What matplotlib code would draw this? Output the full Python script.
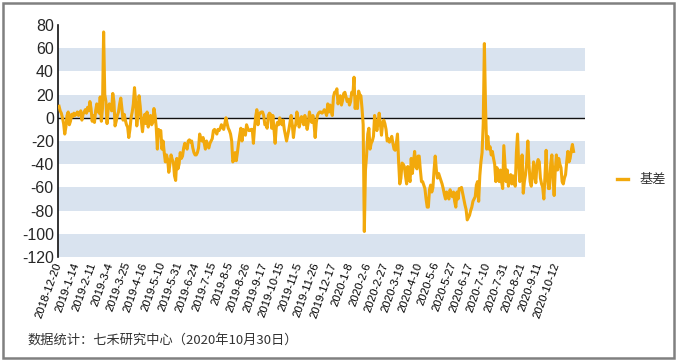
import matplotlib
matplotlib.use("Agg")
import matplotlib.pyplot as plt
from matplotlib.patches import Rectangle

plt.rcParams['font.family'] = ['Liberation Sans', 'Noto Sans CJK SC', 'DejaVu Sans']

tick_labels = ["2018-12-20", "2019-1-14", "2019-2-11", "2019-3-4", "2019-3-25", "2019-4-16",
               "2019-5-10", "2019-5-31", "2019-6-24", "2019-7-15", "2019-8-5", "2019-8-26",
               "2019-9-17", "2019-10-15", "2019-11-5", "2019-11-26", "2019-12-17", "2020-1-8",
               "2020-2-6", "2020-2-27", "2020-3-19", "2020-4-10", "2020-5-6", "2020-5-27",
               "2020-6-17", "2020-7-10", "2020-7-31", "2020-8-21", "2020-9-11", "2020-10-12"]
tick_step = 15

basis = [
    10, 6, 4, 0, -5, -14, -8, 2, 5, -6, -3, 3, 1, 4, 2,
    3, 5, 2, 4, 6, -2, 3, 5, 7, 4, 9, 6, 14, 8, -3,
    2, -4, 6, 12, 10, 4, 18, -3, 8, 74, 20, 14, -5, 8, 12,
    10, 6, 21, 14, -7, -3, 2, 5, 12, 17, 8, -2, 3, -2, -6,
    -8, -17, -10, 0, 5, 12, 26, 14, -7, 3, 19, 10, -3, -12, -2,
    3, -5, 5, -8, 0, 2, -6, -4, 8, 2, -8, -27, -10, -12, -11,
    -27, -20, -30, -38, -32, -36, -47, -40, -32, -36, -38, -50, -54, -35, -44,
    -40, -30, -35, -33, -26, -22, -25, -27, -20, -19, -21, -20, -26, -30, -32,
    -32, -30, -26, -14, -18, -20, -17, -22, -27, -20, -24, -26, -22, -20, -18,
    -11, -10, -12, -14, -10, -11, -9, -6, -8, -10, -5, 0, -5, -9, -11,
    -14, -20, -38, -36, -30, -37, -30, -22, -15, -9, -20, -10, -12, -15, -6,
    -9, -11, -11, -10, -10, -22, -8, 1, 7, -6, 4, 4, 5, 5, 2,
    -6, -6, -9, 2, 4, 3, -9, 2, -10, -22, -8, -4, -6, 0, -4,
    -6, -2, -10, -15, -20, -15, -10, -4, 2, -6, -17, -8, -6, 5, 0,
    -8, -4, 1, 0, -6, 2, -4, -10, -4, 5, 0, -4, 2, -5, -17,
    -4, 2, 4, 5, 5, 4, 5, 7, 5, 2, 12, 5, 11, 6, 2,
    18, 22, 22, 25, 12, 16, 19, 11, 15, 21, 22, 18, 14, 16, 11,
    14, 22, 20, 35, 8, 18, 8, 23, 20, 19, 8, -6, -98, -45, -32,
    -14, -9, -27, -22, -20, -16, 2, -5, -11, -4, 4, -5, -15, -5, -2,
    -5, -10, -20, -18, -21, -19, -16, -22, -27, -28, -22, -14, -38, -57, -52,
    -39, -40, -42, -50, -57, -42, -50, -55, -35, -48, -38, -29, -42, -44, -33,
    -33, -45, -55, -55, -58, -61, -70, -77, -77, -62, -58, -64, -60, -45, -33,
    -45, -52, -48, -51, -54, -57, -61, -66, -70, -64, -68, -70, -62, -66, -68,
    -64, -72, -77, -64, -70, -61, -61, -60, -65, -70, -75, -79, -88, -86, -84,
    -80, -77, -72, -70, -68, -58, -55, -72, -50, -38, -30, -5, 64, 10, -27,
    -16, -27, -25, -32, -29, -35, -40, -55, -43, -50, -55, -45, -55, -61, -24,
    -40, -55, -45, -59, -52, -49, -57, -50, -55, -59, -30, -14, -40, -55, -50,
    -32, -65, -55, -49, -38, -20, -40, -55, -59, -50, -38, -50, -56, -40, -36,
    -38, -52, -57, -60, -70, -50, -28, -50, -61, -61, -40, -32, -50, -67, -45,
    -32, -45, -35, -40, -43, -55, -57, -52, -49, -38, -29, -38, -35, -28, -23, -29,
]
series_name = "基差"
footer = "数据统计：七禾研究中心（2020年10月30日）"
y_ticks = list(range(-120, 81, 20))

W, H = 676, 360
fig = plt.figure(figsize=(W / 100, H / 100), dpi=100)
ax = fig.add_axes([58 / W, 1 - 257 / H, (585 - 58) / W, (257 - 25) / H])

x = list(range(len(basis)))
band_color = '#D9E3EF'
for i in range(len(y_ticks) - 1):
    lo, hi = y_ticks[i], y_ticks[i + 1]
    if (lo // 20) % 2 == 0:
        ax.axhspan(lo, hi, color=band_color, lw=0, zorder=0)

ax.axhline(0, color='#111111', lw=1.0, zorder=1)
ax.plot(x, basis, color='#F2A90C', lw=2.2, solid_joinstyle='round', zorder=3, label=series_name)

ax.set_xlim(-0.9, 460)
ax.set_ylim(-120, 80)
ax.set_yticks(y_ticks)
ax.set_yticklabels([str(v) for v in y_ticks], fontsize=11.5, color='#262626')
ax.tick_params(axis='y', length=0, pad=3)

ticks = list(range(0, len(tick_labels) * tick_step, tick_step))
ax.set_xticks(ticks)
ax.set_xticklabels(tick_labels, rotation=70, ha='right', va='center', rotation_mode='anchor',
                   fontsize=8.2, color='#000000')
ax.tick_params(axis='x', length=0, pad=4)

for s in ['top', 'right', 'bottom']:
    ax.spines[s].set_visible(False)
ax.spines['left'].set_color('#111111')
ax.spines['left'].set_linewidth(1.2)

# legend
leg_y = 1 - 179 / H
fig.lines.append(plt.Line2D([617 / W, 628 / W], [leg_y, leg_y], color='#F2A90C', lw=2.4,
                            transform=fig.transFigure))
fig.text(640 / W, leg_y, series_name, fontsize=9.5, va='center', ha='left', color='#333333',
         family=['Noto Sans CJK SC', 'DejaVu Sans'])

fig.text(27 / W, 1 - 340 / H, footer, fontsize=9.5, va='center', ha='left', color='#333333',
         family=['Noto Sans CJK SC', 'DejaVu Sans'])

fig.patches.append(Rectangle((2.5 / W, 2.5 / H), (W - 5) / W, (H - 5) / H, transform=fig.transFigure,
                             fill=False, edgecolor='#808080', lw=1.8))

fig.savefig('out.png', dpi=100)
